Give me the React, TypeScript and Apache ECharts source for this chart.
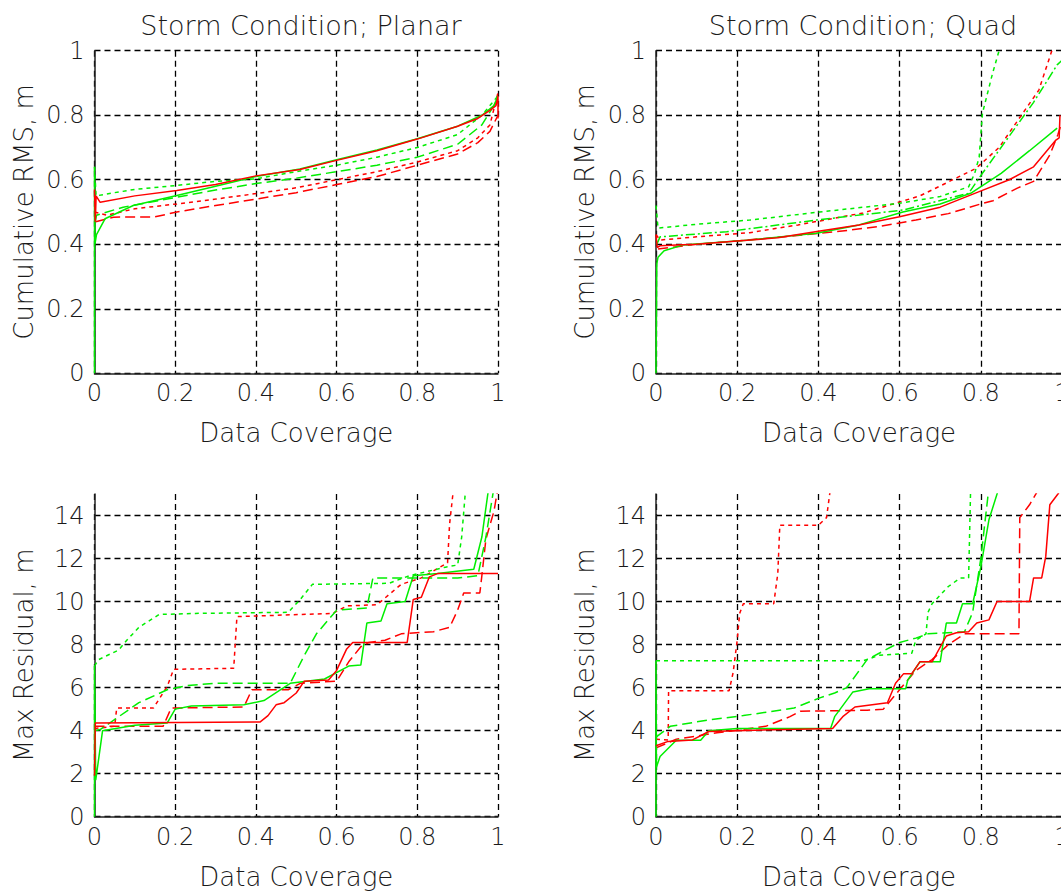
import React, { useEffect, useRef } from "react";
import * as echarts from "echarts";

// ---- Titles / axis texts ----
const titles = ["Storm Condition; Planar", "Storm Condition; Quad"];
const xName = "Data Coverage";
const yNamesTop = "Cumulative RMS, m";
const yNamesBottom = "Max Residual, m";

// ---- Top-left: Planar, cumulative RMS ----
const tlRedSolid = [[0,0.57],[0.002,0.47],[0.004,0.55],[0.014,0.53],[0.1,0.55],[0.204,0.567],[0.3,0.585],[0.4,0.612],[0.509,0.632],[0.6,0.66],[0.7,0.69],[0.8,0.726],[0.9,0.766],[0.95,0.79],[0.98,0.815],[0.995,0.83],[1,0.86],[1,0.79]];
const tlRedDash = [[0.003,0.47],[0.047,0.484],[0.15,0.485],[0.204,0.5],[0.3,0.52],[0.4,0.54],[0.5,0.56],[0.6,0.585],[0.7,0.61],[0.8,0.645],[0.9,0.68],[0.95,0.715],[0.98,0.75],[1,0.8]];
const tlRedDot = [[0,0.5],[0.03,0.49],[0.1,0.51],[0.204,0.525],[0.3,0.54],[0.4,0.557],[0.5,0.575],[0.6,0.6],[0.7,0.625],[0.8,0.655],[0.9,0.69],[0.95,0.73],[0.98,0.77],[1,0.87]];
const tlGreenSolid = [[0,0],[0,0.64],[0.001,0.4],[0.005,0.43],[0.026,0.479],[0.096,0.52],[0.204,0.551],[0.3,0.58],[0.4,0.61],[0.509,0.633],[0.6,0.662],[0.7,0.692],[0.8,0.727],[0.9,0.766],[0.96,0.8],[0.99,0.83],[1,0.86]];
const tlGreenDash = [[0.002,0.47],[0.005,0.49],[0.071,0.515],[0.2,0.545],[0.3,0.568],[0.4,0.588],[0.5,0.605],[0.6,0.625],[0.7,0.645],[0.8,0.67],[0.9,0.71],[0.96,0.77],[1,0.85]];
const tlGreenDot = [[0,0.64],[0.004,0.55],[0.05,0.56],[0.1,0.57],[0.2,0.582],[0.3,0.595],[0.4,0.603],[0.5,0.625],[0.6,0.645],[0.7,0.67],[0.8,0.7],[0.9,0.74],[0.96,0.8],[1,0.86]];

// ---- Top-right: Quad, cumulative RMS ----
const trRedSolid = [[0,0.43],[0.003,0.39],[0.01,0.395],[0.05,0.398],[0.1,0.4],[0.2,0.41],[0.3,0.42],[0.4,0.44],[0.5,0.46],[0.6,0.485],[0.7,0.515],[0.796,0.563],[0.87,0.6],[0.93,0.64],[0.985,0.723],[0.993,0.73],[0.995,0.8]];
const trRedDash = [[0.005,0.385],[0.1,0.4],[0.223,0.413],[0.33,0.425],[0.444,0.439],[0.55,0.455],[0.64,0.475],[0.72,0.495],[0.8,0.525],[0.83,0.535],[0.89,0.574],[0.93,0.595],[0.97,0.677],[0.99,0.74],[1,0.78]];
const trRedDot = [[0,0.43],[0.01,0.413],[0.1,0.423],[0.231,0.436],[0.35,0.46],[0.51,0.497],[0.65,0.55],[0.788,0.635],[0.845,0.7],[0.9,0.8],[0.943,0.878],[0.975,1.0]];
const trGreenSolid = [[0,0],[0.002,0.34],[0.005,0.36],[0.02,0.38],[0.067,0.398],[0.231,0.413],[0.395,0.434],[0.5,0.46],[0.608,0.5],[0.7,0.525],[0.775,0.558],[0.85,0.62],[0.92,0.69],[0.988,0.76]];
const trGreenDash = [[0.002,0.4],[0.01,0.423],[0.174,0.439],[0.395,0.475],[0.608,0.506],[0.77,0.558],[0.804,0.62],[0.878,0.749],[0.93,0.84],[0.988,0.956],[1,0.97]];
const trGreenDot = [[0,0.52],[0.005,0.45],[0.1,0.462],[0.231,0.475],[0.403,0.5],[0.6,0.527],[0.7,0.548],[0.77,0.578],[0.785,0.62],[0.796,0.67],[0.804,0.806],[0.829,0.93],[0.845,1.0]];

// ---- Bottom-left: Planar, max residual ----
const blRedSolid = [[0,1.9],[0.002,4.35],[0.41,4.4],[0.43,4.7],[0.45,5.2],[0.47,5.3],[0.5,5.75],[0.52,6.3],[0.58,6.35],[0.6,6.8],[0.625,7.8],[0.64,8.1],[0.775,8.1],[0.79,10.1],[0.81,10.2],[0.83,11.15],[0.85,11.3],[1,11.3]];
const blRedDashDot = [[0,4.2],[0.17,4.2],[0.19,5.05],[0.37,5.1],[0.39,5.9],[0.48,5.9],[0.51,6.2],[0.6,6.3],[0.63,7.2],[0.66,7.9],[0.68,8.1],[0.72,8.2],[0.76,8.5],[0.84,8.6],[0.88,8.8],[0.9,9.6],[0.915,10.4],[0.955,10.4],[0.96,11.2],[0.97,12.9],[0.99,14.2],[1,15.3]];
const blRedDot = [[0,4.1],[0.05,4.2],[0.055,5.05],[0.146,5.05],[0.18,6.05],[0.196,6.85],[0.345,6.9],[0.353,9.3],[0.59,9.45],[0.626,9.8],[0.7,9.85],[0.76,10.8],[0.81,11.1],[0.875,11.8],[0.88,13.6],[0.89,15.3]];
const blGreenSolid = [[0,0],[0,7.0],[0.003,1.7],[0.02,4.0],[0.1,4.25],[0.18,4.35],[0.2,5.0],[0.24,5.15],[0.37,5.2],[0.42,5.4],[0.485,6.2],[0.57,6.4],[0.63,7.0],[0.66,7.05],[0.675,9.0],[0.71,9.1],[0.725,9.9],[0.77,10.0],[0.79,11.2],[0.85,11.3],[0.94,11.5],[0.96,13],[0.977,15.3]];
const blGreenDash = [[0,4.0],[0.014,4.05],[0.11,5.3],[0.18,5.9],[0.23,6.1],[0.3,6.2],[0.485,6.2],[0.52,7.5],[0.55,8.5],[0.6,9.6],[0.675,9.7],[0.69,11.1],[0.75,11.1],[0.9,11.1],[0.95,11.2],[0.97,13],[0.99,15.3]];
const blGreenDot = [[0,7.0],[0.01,7.3],[0.06,7.75],[0.08,8.2],[0.11,8.8],[0.16,9.4],[0.25,9.45],[0.48,9.5],[0.51,10.1],[0.54,10.8],[0.73,10.85],[0.78,11.2],[0.87,11.6],[0.9,11.7],[0.91,13],[0.92,15.3]];

// ---- Bottom-right: Quad, max residual ----
const brRedSolid = [[0,3.3],[0.03,3.5],[0.09,3.57],[0.13,3.96],[0.2,4.0],[0.435,4.1],[0.46,4.65],[0.49,5.1],[0.57,5.3],[0.59,6.2],[0.61,6.65],[0.63,6.65],[0.65,7.2],[0.68,7.2],[0.715,8.4],[0.74,8.55],[0.77,8.6],[0.79,9.0],[0.82,9.15],[0.84,10.0],[0.92,10.0],[0.93,11.1],[0.95,11.1],[0.96,12.1],[0.97,14.5],[0.99,15],[1,15.3]];
const brRedDash = [[0,3.2],[0.05,3.6],[0.15,3.9],[0.27,4.2],[0.33,4.65],[0.355,4.9],[0.52,4.95],[0.56,5.0],[0.6,5.9],[0.64,6.8],[0.68,7.3],[0.72,8.0],[0.76,8.5],[0.894,8.5],[0.896,13.9],[0.92,14.5],[0.945,15.3]];
const brRedDot = [[0,3.6],[0.03,3.57],[0.031,5.85],[0.18,5.85],[0.19,6.7],[0.2,8.2],[0.206,9.45],[0.215,9.9],[0.29,9.9],[0.3,11.3],[0.305,13.55],[0.4,13.55],[0.42,13.9],[0.43,15.3]];
const brGreenSolid = [[0,0],[0,7.25],[0.001,2.3],[0.01,2.8],[0.05,3.55],[0.11,3.55],[0.13,4.0],[0.2,4.1],[0.43,4.1],[0.44,4.65],[0.485,5.8],[0.525,5.95],[0.615,5.95],[0.62,6.35],[0.65,7.2],[0.7,7.2],[0.715,9.0],[0.74,9.0],[0.755,9.9],[0.78,9.9],[0.8,11.6],[0.82,13.8],[0.845,15.3]];
const brGreenDash = [[0,3.7],[0.035,4.2],[0.13,4.5],[0.215,4.7],[0.34,5.05],[0.4,5.5],[0.44,5.75],[0.47,6.0],[0.52,7.3],[0.56,7.7],[0.6,8.1],[0.64,8.3],[0.67,8.5],[0.76,8.6],[0.78,9.5],[0.8,12.0],[0.82,15.3]];
const brGreenDot = [[0,7.25],[0.51,7.25],[0.55,7.5],[0.63,7.6],[0.64,8.2],[0.665,8.5],[0.67,9.5],[0.68,9.9],[0.72,10.7],[0.75,11.1],[0.77,11.1],[0.775,15.3]];

const RED = "#ff0000";
const GREEN = "#00ee00";
const FONT = "DejaVu Sans";
const TEXT = "#1a1a1a";
const WEIGHT = 300;

const STYLES: Record<string, any> = {
  solid: "solid",
  dash: [10, 5],
  dot: [4, 4],
  dashdot: [9, 3, 2, 3],
};

function line(gridIdx: number, data: number[][], color: string, style: string) {
  return {
    type: "line",
    xAxisIndex: gridIdx,
    yAxisIndex: gridIdx,
    data,
    showSymbol: false,
    symbol: "none",
    clip: true,
    lineStyle: { color, width: 1.5, type: STYLES[style] },
    z: 3,
  };
}

const gridLine = { show: true, lineStyle: { color: "#000", width: 1.3, type: [6, 4] as any } };

function xAxis(gridIndex: number) {
  return {
    type: "value",
    gridIndex,
    min: 0,
    max: 1,
    interval: 0.2,
    name: xName,
    nameLocation: "middle",
    nameGap: 47,
    nameTextStyle: { fontFamily: FONT, fontSize: 26, fontWeight: WEIGHT, color: TEXT },
    axisLine: { show: true, onZero: false, lineStyle: { color: "#222", width: 1.5 } },
    axisTick: { show: false },
    axisLabel: { fontFamily: FONT, fontSize: 24, fontWeight: WEIGHT, color: TEXT, margin: 8 },
    splitLine: gridLine,
  };
}

function yAxis(gridIndex: number, top: boolean) {
  return {
    type: "value",
    gridIndex,
    min: 0,
    max: top ? 1 : 15,
    interval: top ? 0.2 : 2,
    name: top ? yNamesTop : yNamesBottom,
    nameLocation: "middle",
    nameRotate: 90,
    nameGap: 58,
    nameTextStyle: { fontFamily: FONT, fontSize: 26, fontWeight: WEIGHT, color: TEXT },
    axisLine: { show: true, onZero: false, lineStyle: { color: "#222", width: 1.5 } },
    axisTick: { show: false },
    axisLabel: { fontFamily: FONT, fontSize: 24, fontWeight: WEIGHT, color: TEXT, margin: 10, showMaxLabel: top ? true : false },
    splitLine: { ...gridLine, showMaxLine: top ? true : false },
  };
}

export default function App() {
  const ref = useRef<HTMLDivElement>(null);
  useEffect(() => {
    if (!ref.current) return;
    const chart = echarts.init(ref.current, undefined, { renderer: "svg" });
    chart.setOption({
      animation: false,
      backgroundColor: "#ffffff",
      title: [
        { text: titles[0], left: 296, top: 7, textAlign: "center", textStyle: { fontFamily: FONT, fontSize: 27, fontWeight: WEIGHT, color: TEXT } },
        { text: titles[1], left: 858, top: 7, textAlign: "center", textStyle: { fontFamily: FONT, fontSize: 27, fontWeight: WEIGHT, color: TEXT } },
      ],
      grid: [
        { left: 94.5, top: 50.7, width: 403.5, height: 322.6 },
        { left: 656, top: 50.7, width: 406, height: 322.6 },
        { left: 94.5, top: 494, width: 403.5, height: 322.7 },
        { left: 656, top: 494, width: 406, height: 322.7 },
      ],
      xAxis: [xAxis(0), xAxis(1), xAxis(2), xAxis(3)],
      yAxis: [yAxis(0, true), yAxis(1, true), yAxis(2, false), yAxis(3, false)],
      series: [
        line(0, tlRedDash, RED, "dash"),
        line(0, tlRedDot, RED, "dot"),
        line(0, tlGreenDash, GREEN, "dash"),
        line(0, tlGreenDot, GREEN, "dot"),
        line(0, tlGreenSolid, GREEN, "solid"),
        line(0, tlRedSolid, RED, "solid"),

        line(1, trRedDash, RED, "dash"),
        line(1, trRedDot, RED, "dot"),
        line(1, trGreenDash, GREEN, "dashdot"),
        line(1, trGreenDot, GREEN, "dot"),
        line(1, trGreenSolid, GREEN, "solid"),
        line(1, trRedSolid, RED, "solid"),

        line(2, blRedDashDot, RED, "dash"),
        line(2, blRedDot, RED, "dot"),
        line(2, blGreenDash, GREEN, "dash"),
        line(2, blGreenDot, GREEN, "dot"),
        line(2, blGreenSolid, GREEN, "solid"),
        line(2, blRedSolid, RED, "solid"),

        line(3, brRedDash, RED, "dash"),
        line(3, brRedDot, RED, "dot"),
        line(3, brGreenDash, GREEN, "dash"),
        line(3, brGreenDot, GREEN, "dot"),
        line(3, brGreenSolid, GREEN, "solid"),
        line(3, brRedSolid, RED, "solid"),
      ],
    });
    return () => chart.dispose();
  }, []);
  return (
    <div style={{ position: "fixed", left: 0, top: 0, width: 1061, height: 896, overflow: "hidden", background: "#fff" }}>
      <div ref={ref} style={{ width: 1080, height: 896 }} />
    </div>
  );
}
